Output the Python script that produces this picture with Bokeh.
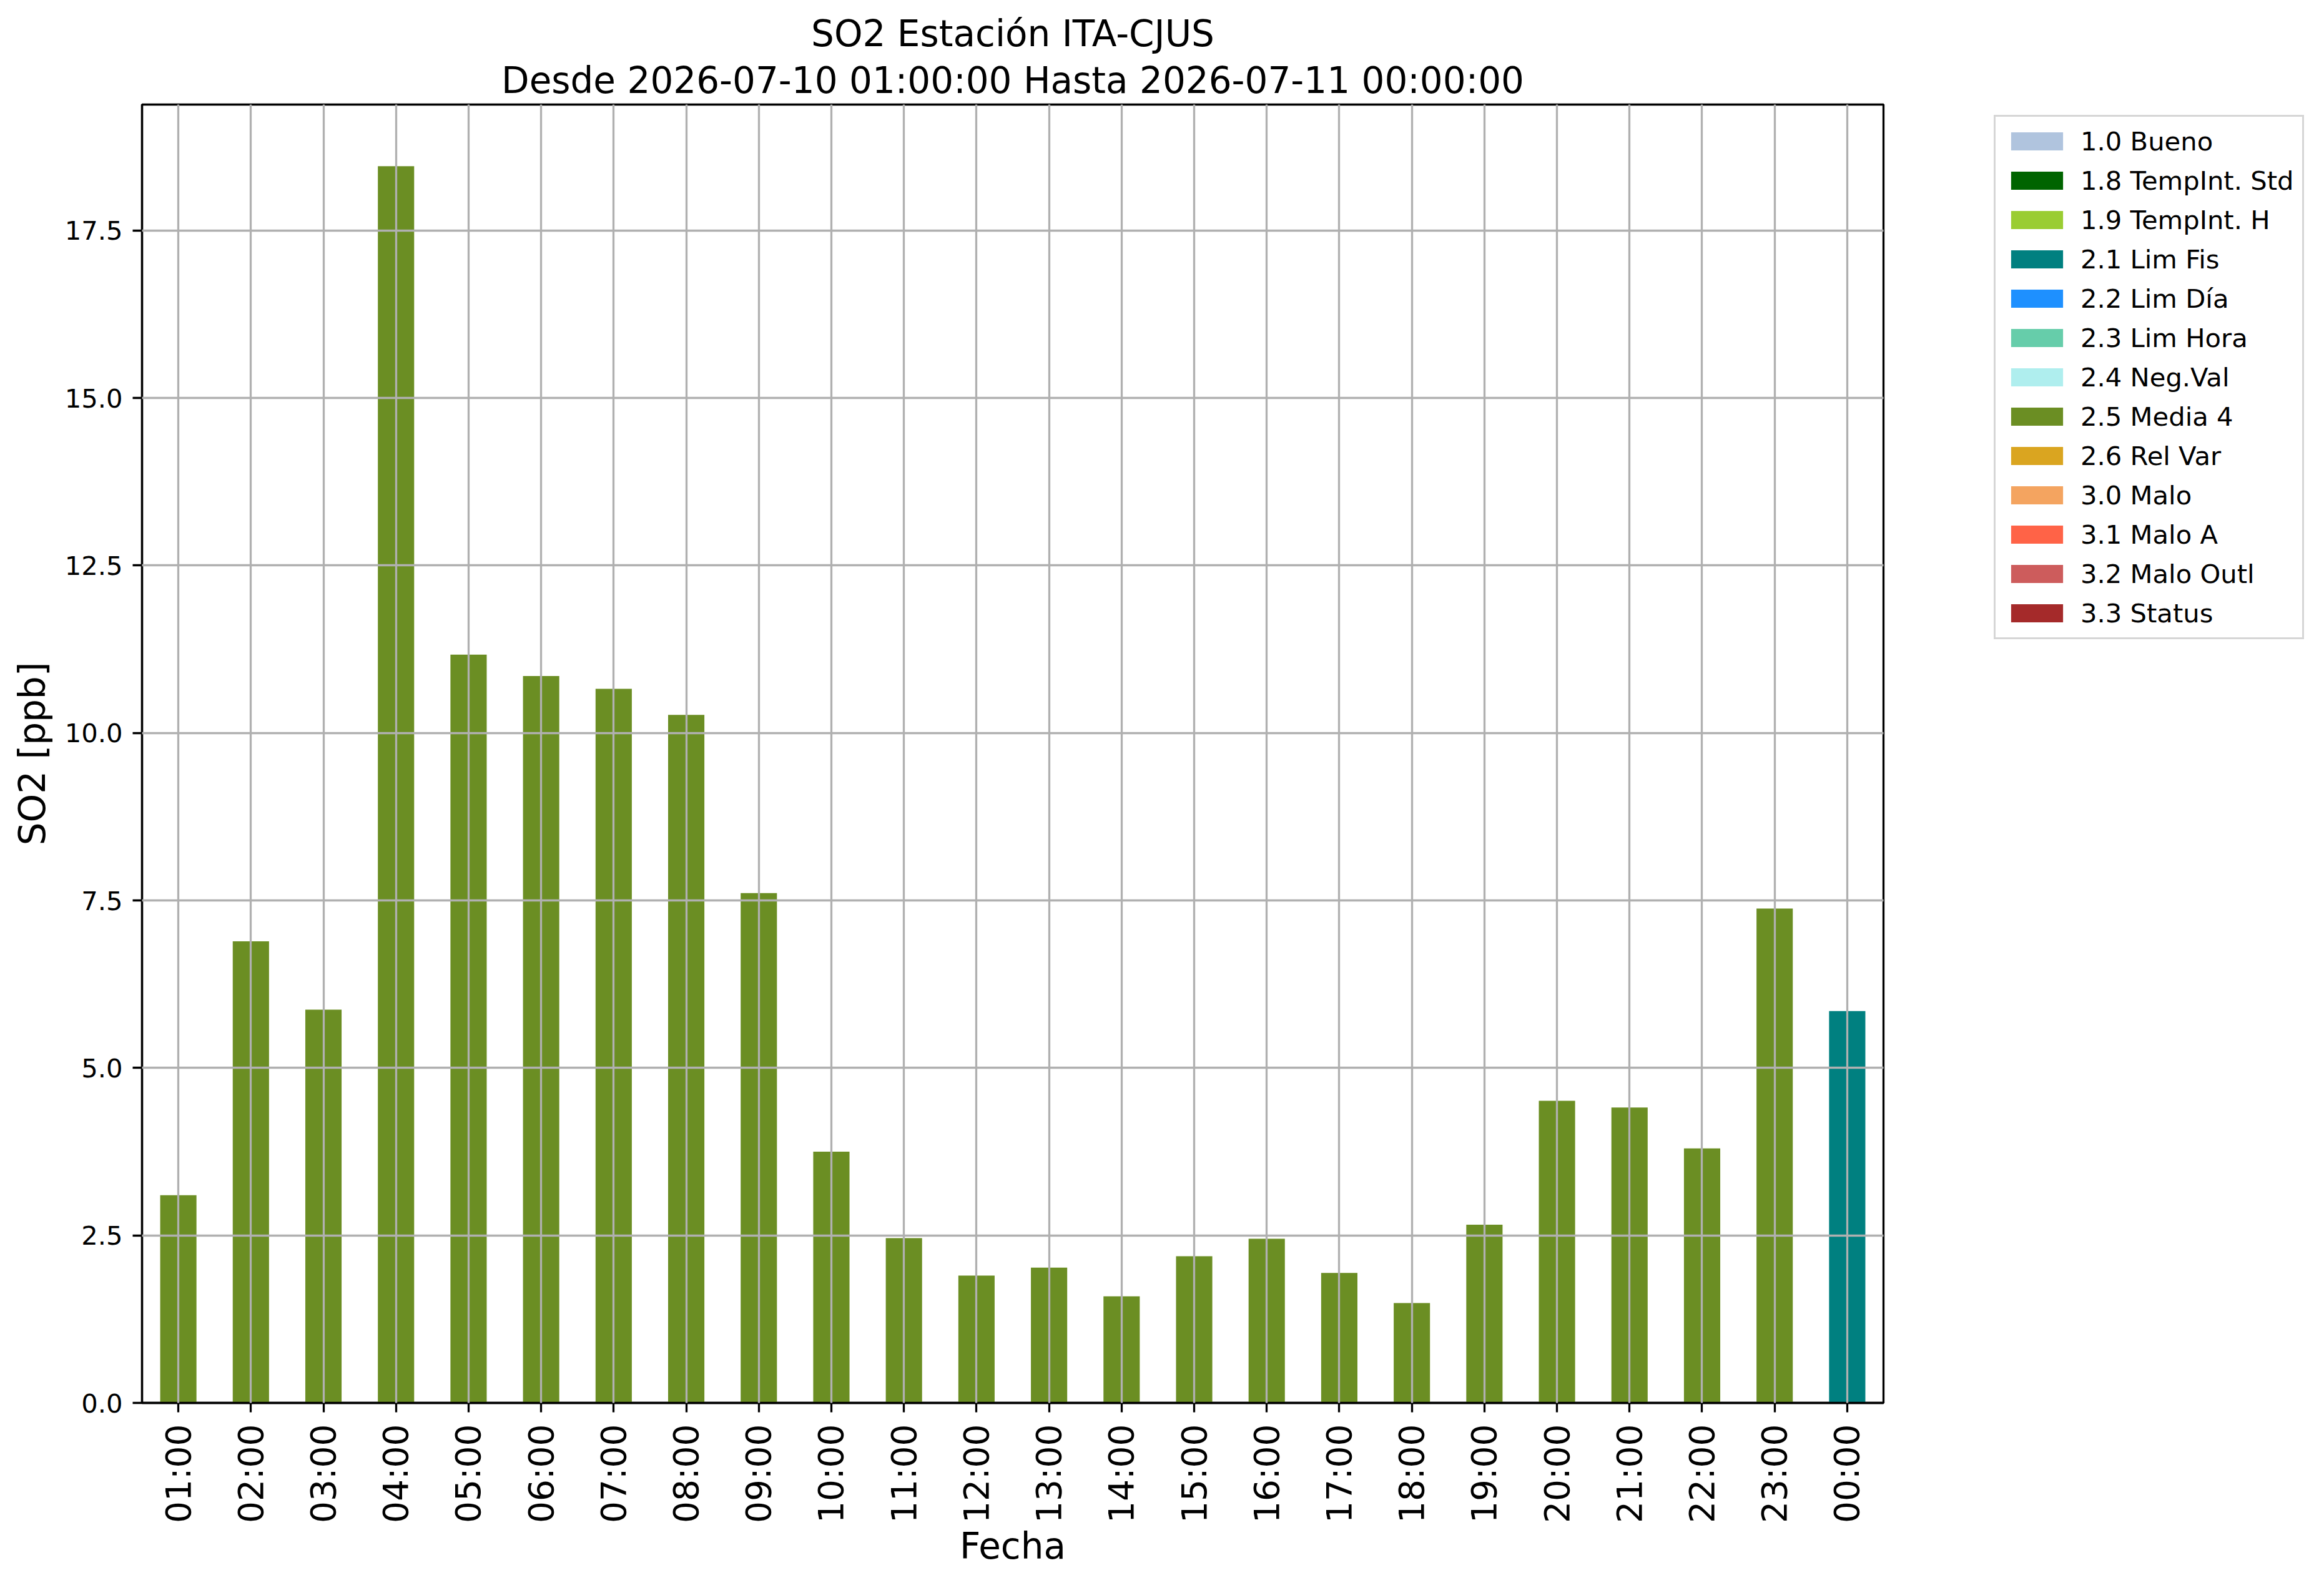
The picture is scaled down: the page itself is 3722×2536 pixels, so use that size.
import math
from bokeh.plotting import figure
from bokeh.layouts import row
from bokeh.models import (ColumnDataSource, FactorRange, Range1d, FixedTicker,
                          PrintfTickFormatter, Legend, LegendItem, Title)
from bokeh.embed import file_html
from bokeh.resources import INLINE

# ---- data ----
hours = ["01:00", "02:00", "03:00", "04:00", "05:00", "06:00", "07:00", "08:00",
         "09:00", "10:00", "11:00", "12:00", "13:00", "14:00", "15:00", "16:00",
         "17:00", "18:00", "19:00", "20:00", "21:00", "22:00", "23:00", "00:00"]
values = [3.10, 6.89, 5.87, 18.46, 11.17, 10.85, 10.66, 10.27, 7.61, 3.75, 2.46, 1.90,
          2.02, 1.59, 2.19, 2.45, 1.94, 1.49, 2.66, 4.51, 4.41, 3.80, 7.38, 5.85]
flags = ["2.5 Media 4", "2.5 Media 4", "2.5 Media 4", "2.5 Media 4", "2.5 Media 4",
         "2.5 Media 4", "2.5 Media 4", "2.5 Media 4", "2.5 Media 4", "2.5 Media 4",
         "2.5 Media 4", "2.5 Media 4", "2.5 Media 4", "2.5 Media 4", "2.5 Media 4",
         "2.5 Media 4", "2.5 Media 4", "2.5 Media 4", "2.5 Media 4", "2.5 Media 4",
         "2.5 Media 4", "2.5 Media 4", "2.5 Media 4", "2.1 Lim Fis"]
categories = ["1.0 Bueno", "1.8 TempInt. Std", "1.9 TempInt. H", "2.1 Lim Fis",
              "2.2 Lim Día", "2.3 Lim Hora", "2.4 Neg.Val", "2.5 Media 4",
              "2.6 Rel Var", "3.0 Malo", "3.1 Malo A", "3.2 Malo Outl", "3.3 Status"]
category_colors = ["#b0c4de", "#006400", "#9acd32", "#008080", "#1e90ff", "#66cdaa",
                   "#afeeee", "#6b8e23", "#daa520", "#f4a460", "#ff6347", "#cd5c5c",
                   "#a52a2a"]
y_ticks = [0.0, 2.5, 5.0, 7.5, 10.0, 12.5, 15.0, 17.5]
y_max = 19.38
title1 = "SO2 Estación ITA-CJUS"
title2 = "Desde 2026-07-10 01:00:00 Hasta 2026-07-11 00:00:00"
x_label = "Fecha"
y_label = "SO2 [ppb]"

FONT = "DejaVu Sans"
H = 2520
W1 = 3036            # main chart figure
W2 = 670             # legend figure
ML, MR, MT, MB = 227, 20, 167, H - 2247

p = figure(x_range=FactorRange(factors=hours, range_padding=0),
           y_range=Range1d(0, y_max),
           width=W1, height=H, output_backend="svg", toolbar_location=None,
           title=title1,
           min_border_left=ML, min_border_right=MR,
           min_border_top=MT, min_border_bottom=MB)
p.background_fill_color = "white"
p.border_fill_color = "white"

p.title.text_font = FONT
p.title.text_font_size = "58px"
p.title.text_font_style = "normal"
p.title.text_color = "black"
p.title.align = "center"
p.title.standoff = 0
p.add_layout(Title(text=title2, align="center", text_font=FONT,
                   text_font_size="58px", text_font_style="normal",
                   text_color="black", standoff=10), "above")

# bars: one renderer per quality flag present in the data
for cat, col in zip(categories, category_colors):
    xs = [h for h, f in zip(hours, flags) if f == cat]
    ts = [v for v, f in zip(values, flags) if f == cat]
    if xs:
        src = ColumnDataSource(dict(x=xs, top=ts))
        p.vbar(x="x", top="top", bottom=0, width=0.5, source=src,
               fill_color=col, line_color=None)

# frame / grid
p.outline_line_color = "black"
p.outline_line_width = 3.3
p.grid.grid_line_color = "#b0b0b0"
p.grid.grid_line_width = 3.3
p.grid.level = "overlay"

# axes
for ax in (p.xaxis, p.yaxis):
    ax.axis_line_color = "black"
    ax.axis_line_width = 3.3
    ax.major_tick_out = 15
    ax.major_tick_in = 0
    ax.major_tick_line_width = 3.3
    ax.major_tick_line_color = "black"
    ax.minor_tick_line_color = None
    ax.major_label_text_font = FONT
    ax.major_label_text_color = "black"
    ax.axis_label_text_font = FONT
    ax.axis_label_text_font_size = "58px"
    ax.axis_label_text_font_style = "normal"
    ax.axis_label_text_color = "black"

p.xaxis.major_label_orientation = math.pi / 2
p.xaxis.major_label_text_font_size = "55px"
p.xaxis.major_label_standoff = 19
p.xaxis.axis_label = x_label
p.xaxis.axis_label_standoff = 0

p.yaxis.ticker = FixedTicker(ticks=y_ticks)
p.yaxis.formatter = PrintfTickFormatter(format="%.1f")
p.yaxis.major_label_text_font_size = "41.7px"
p.yaxis.major_label_standoff = 16
p.yaxis.axis_label = y_label
p.yaxis.axis_label_standoff = 15

# ---- legend panel (separate figure to the right, frame aligned with main) ----
LEG_MARGIN = 17
lf = figure(width=W2, height=H, x_range=Range1d(0, 1), y_range=Range1d(0, 1),
            output_backend="svg", toolbar_location=None,
            x_axis_location=None, y_axis_location=None,
            min_border_left=157 - LEG_MARGIN, min_border_top=MT,
            min_border_right=0, min_border_bottom=0)
lf.outline_line_color = None
lf.background_fill_color = "white"
lf.border_fill_color = "white"
lf.grid.visible = False

items = []
for cat, col in zip(categories, category_colors):
    # legend swatch only: a single NaN bar that is never drawn
    r = lf.vbar(x=[0.5], top=[float("nan")], width=0.5,
                fill_color=col, line_color=None)
    items.append(LegendItem(label=cat, renderers=[r]))

legend = Legend(items=items, location="top_left")
legend.margin = LEG_MARGIN
legend.padding = 14
legend.spacing = 13
legend.glyph_width = 104
legend.glyph_height = 36
legend.label_height = 50
legend.label_standoff = 18
legend.label_text_font = FONT
legend.label_text_font_size = "41.7px"
legend.label_text_color = "black"
legend.border_line_color = "#cccccc"
legend.border_line_width = 3.3
legend.border_line_alpha = 0.8
legend.background_fill_color = "white"
legend.background_fill_alpha = 0.8
lf.add_layout(legend, "center")

layout = row(p, lf, spacing=0)
open("out.html", "w").write(file_html(layout, INLINE))
